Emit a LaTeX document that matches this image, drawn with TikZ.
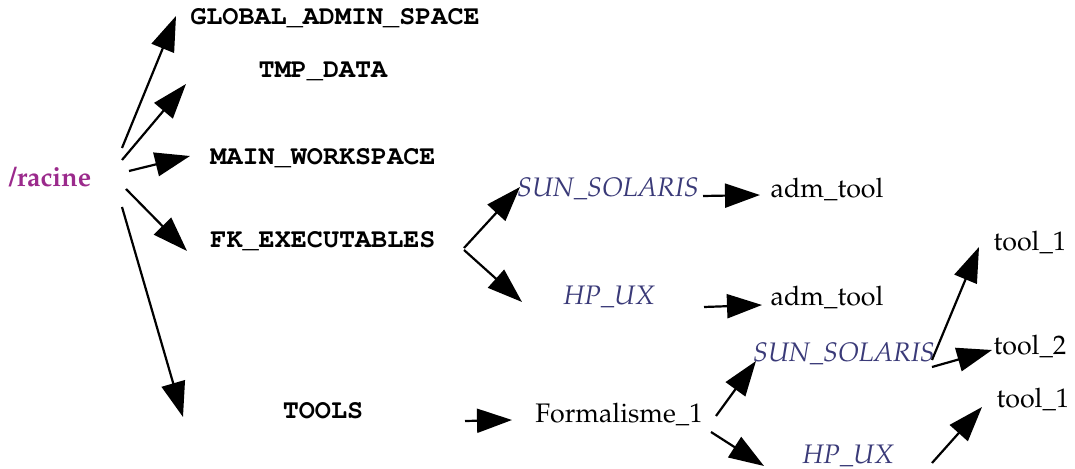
\documentclass[tikz,border=0pt]{standalone}
\usepackage[T1]{fontenc}
\usetikzlibrary{arrows.meta}
\renewcommand{\rmdefault}{ppl}
\definecolor{rootcol}{RGB}{155,42,140}
\definecolor{oscol}{RGB}{58,58,120}
\begin{document}
\begin{tikzpicture}[x=0.5pt,y=-0.5pt,
  lbl/.style={inner sep=0pt,font=\fontsize{13.4}{16}\selectfont},
  dir/.style={lbl,font=\fontsize{13.4}{16}\fontfamily{pcr}\bfseries\selectfont},
  os/.style={lbl,text=oscol,font=\fontsize{13.4}{16}\itshape\selectfont},
  root/.style={lbl,text=rootcol,font=\fontsize{13.4}{16}\bfseries\selectfont},
  arr/.style={line width=1.1pt,-{Triangle[length=17.5pt,width=12pt]}}]
\useasboundingbox (0,0) rectangle (1075,469);
% nodes
\node[root] (racine) at (50,177) {/racine};
\node[dir] (global) at (335,18) {GLOBAL\_ADMIN\_SPACE};
\node[dir] (tmp) at (323,72) {TMP\_DATA};
\node[dir] (main) at (323,158) {MAIN\_WORKSPACE};
\node[dir] (fk) at (323,241) {FK\_EXECUTABLES};
\node[dir] (tools) at (323,411) {TOOLS};
\node[os] (sun1) at (608,189) {SUN\_SOLARIS};
\node[os] (hp1) at (609,297) {HP\_UX};
\node[lbl] (adm1) at (827,189) {adm\_tool};
\node[lbl] (adm2) at (827,297) {adm\_tool};
\node[lbl] (form) at (619,414) {Formalisme\_1};
\node[os] (sun2) at (844,354) {SUN\_SOLARIS};
\node[os] (hp2) at (848,456) {HP\_UX};
\node[lbl] (t1a) at (1030,242) {tool\_1};
\node[lbl] (t2) at (1030,346) {tool\_2};
\node[lbl] (t1b) at (1033,399) {tool\_1};
% connector end points
\coordinate (rG) at (122,148); \coordinate (eG) at (176,16);
\coordinate (rT) at (122,160); \coordinate (eT) at (186,84);
\coordinate (rM) at (129,171); \coordinate (eM) at (190,156);
\coordinate (rF) at (126,189); \coordinate (eF) at (187,251);
\coordinate (rO) at (122,207); \coordinate (eO) at (183,417);
\coordinate (fS) at (464,248); \coordinate (eS1) at (520,187);
\coordinate (fH) at (464,250); \coordinate (eH1) at (522,302);
\coordinate (sA) at (703,196); \coordinate (eA1) at (760,195);
\coordinate (hA) at (704,307); \coordinate (eA2) at (762,305);
\coordinate (oF) at (465,421); \coordinate (eFo) at (512,420);
\coordinate (fS2) at (716,416); \coordinate (eS2) at (756,361);
\coordinate (fH2) at (711,432); \coordinate (eH2) at (764,466);
\coordinate (sT1) at (932,360); \coordinate (eT1) at (979,247);
\coordinate (sT2) at (932,367); \coordinate (eT2) at (992,350);
\coordinate (hT1) at (932,463); \coordinate (eT3) at (982,407);
% connectors
\draw[arr] (rG) -- (eG);
\draw[arr] (rT) -- (eT);
\draw[arr] (rM) -- (eM);
\draw[arr] (rF) -- (eF);
\draw[arr] (rO) -- (eO);
\draw[arr] (fS) -- (eS1);
\draw[arr] (fH) -- (eH1);
\draw[arr] (sA) -- (eA1);
\draw[arr] (hA) -- (eA2);
\draw[arr] (oF) -- (eFo);
\draw[arr] (fS2) -- (eS2);
\draw[arr] (fH2) -- (eH2);
\draw[arr] (sT1) -- (eT1);
\draw[arr] (sT2) -- (eT2);
\draw[arr] (hT1) -- (eT3);
\end{tikzpicture}
\end{document}
